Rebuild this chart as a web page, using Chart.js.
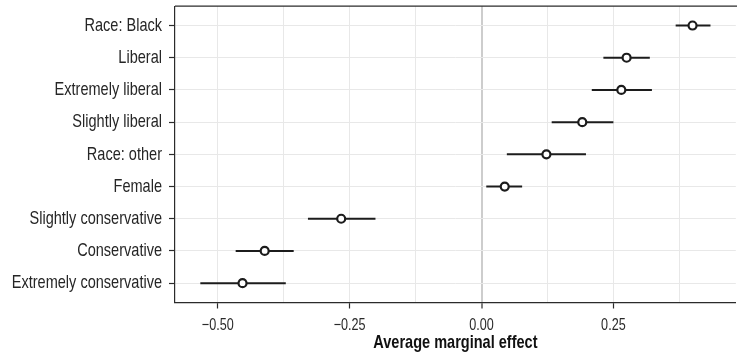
<!DOCTYPE html>
<html>
<head>
<meta charset="utf-8">
<script src="https://cdn.jsdelivr.net/npm/chart.js@4.4.1/dist/chart.umd.min.js"></script>
<style>
  html, body { margin: 0; padding: 0; background: #ffffff; overflow: hidden; }
  #wrap { width: 737px; height: 360px; overflow: hidden; }
  canvas { display: block; }
</style>
</head>
<body>
<div id="wrap"><canvas id="ame" width="742" height="360"></canvas></div>
<script>
// Predictors, listed top to bottom
const terms = [
  'Race: Black',
  'Liberal',
  'Extremely liberal',
  'Slightly liberal',
  'Race: other',
  'Female',
  'Slightly conservative',
  'Conservative',
  'Extremely conservative'
];
// Average marginal effects with lower / upper confidence limits
const estimate = [0.400, 0.275, 0.265, 0.191, 0.123, 0.044, -0.266, -0.411, -0.453];
const lower    = [0.368, 0.231, 0.209, 0.133, 0.048, 0.009, -0.329, -0.466, -0.533];
const upper    = [0.434, 0.319, 0.323, 0.250, 0.198, 0.077, -0.201, -0.356, -0.371];
// Labelled x ticks and the unlabelled grid lines between them
const xMajorTicks = [-0.50, -0.25, 0.00, 0.25];
const xMinorTicks = [-0.375, -0.125, 0.125, 0.375];

const FONT = "'Liberation Sans', Arial, sans-serif";
const NARROW = 0.765;         // horizontal squeeze giving a condensed face
const INK = '#1c1c1c';

const canvas = document.getElementById('ame');
const ctx2d = canvas.getContext('2d');
// draw every label as condensed text around its own anchor point
const plainFillText = ctx2d.fillText.bind(ctx2d);
ctx2d.fillText = function (text, x, y, maxWidth) {
  this.save();
  this.translate(x, y);
  this.scale(NARROW, 1);
  if (maxWidth === undefined) plainFillText(text, 0, 0);
  else plainFillText(text, 0, 0, maxWidth / NARROW);
  this.restore();
};

const pointData = estimate.map((v, i) => ({ x: v, y: i }));
const barData = [];
terms.forEach((t, i) => {
  barData.push({ x: lower[i], y: i }, { x: upper[i], y: i }, { x: NaN, y: NaN });
});

const isMajor = v => xMajorTicks.some(m => Math.abs(m - v) < 1e-9);
const fmt = v => (v < 0 ? '\u2212' : '') + Math.abs(v).toFixed(2);

// top edge of the panel frame
const panelTop = {
  id: 'panelTop',
  afterDraw(chart) {
    const { ctx, chartArea: a } = chart;
    ctx.save();
    ctx.strokeStyle = '#2b2b2b';
    ctx.lineWidth = 1.2;
    ctx.beginPath();
    ctx.moveTo(a.left, a.top);
    ctx.lineTo(a.right + 2, a.top);
    ctx.stroke();
    ctx.restore();
  }
};

new Chart(ctx2d, {
  type: 'scatter',
  data: {
    datasets: [
      {
        label: 'estimate',
        data: pointData,
        order: 0,
        pointStyle: 'circle',
        pointRadius: 4,
        pointBorderWidth: 2.2,
        pointBackgroundColor: '#ffffff',
        pointBorderColor: INK,
        showLine: false
      },
      {
        label: 'interval',
        data: barData,
        order: 1,
        showLine: true,
        spanGaps: false,
        borderColor: INK,
        borderWidth: 2,
        pointRadius: 0,
        borderCapStyle: 'butt'
      }
    ]
  },
  options: {
    responsive: false,
    animation: false,
    events: [],
    layout: { padding: { top: 6, left: 0, right: 1.5, bottom: 0 } },
    plugins: { legend: { display: false }, tooltip: { enabled: false } },
    scales: {
      x: {
        type: 'linear',
        min: -0.581,
        max: 0.482,
        afterBuildTicks(axis) {
          axis.ticks = xMajorTicks.concat(xMinorTicks).sort((a, b) => a - b).map(v => ({ value: v }));
        },
        afterFit(axis) {
          axis.height = 57.5;
          axis.paddingLeft = 0;
          axis.paddingRight = 0;
        },
        grid: {
          color: ctx => (ctx.tick && ctx.tick.value === 0 ? '#cdcdcd' : '#e8e8e8'),
          lineWidth: ctx => (ctx.tick && ctx.tick.value === 0 ? 2 : 1),
          tickColor: ctx => (ctx.tick && isMajor(ctx.tick.value) ? '#2b2b2b' : 'rgba(0,0,0,0)'),
          tickLength: 6,
          tickWidth: 1.2
        },
        border: { display: true, color: '#2b2b2b', width: 1.2 },
        ticks: {
          autoSkip: false,
          maxRotation: 0,
          padding: 7.5,
          color: '#2a2a2a',
          font: { family: FONT, size: 16.5 },
          callback: v => (isMajor(v) ? fmt(v) : '')
        },
        title: {
          display: true,
          text: 'Average marginal effect',
          color: '#111111',
          font: { family: FONT, size: 19, weight: 'bold' },
          padding: { top: 0, bottom: 6 }
        }
      },
      y: {
        type: 'linear',
        reverse: true,
        min: -0.6,
        max: terms.length - 0.4,
        afterBuildTicks(axis) {
          axis.ticks = terms.map((t, i) => ({ value: i }));
        },
        afterFit(axis) {
          axis.width = 175;
          axis.paddingTop = 0;
          axis.paddingBottom = 0;
        },
        grid: {
          color: '#e8e8e8',
          lineWidth: 1,
          tickColor: '#2b2b2b',
          tickLength: 6,
          tickWidth: 1.2
        },
        border: { display: true, color: '#2b2b2b', width: 1.2 },
        ticks: {
          autoSkip: false,
          padding: 7,
          color: '#262626',
          font: { family: FONT, size: 19 },
          callback: v => terms[v]
        }
      }
    }
  },
  plugins: [panelTop]
});
</script>
</body>
</html>
